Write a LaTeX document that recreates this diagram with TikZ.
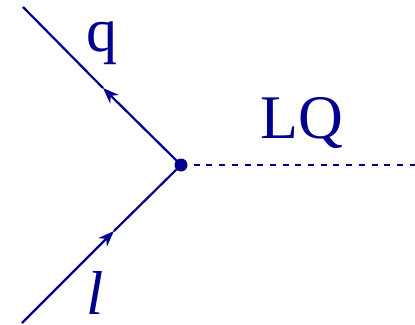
\documentclass[tikz,border=0pt]{standalone}
\usepackage{fontspec}
\setmainfont{Liberation Serif}
\usetikzlibrary{arrows.meta}
\definecolor{fc}{RGB}{0,0,140}
\begin{document}
\begin{tikzpicture}[x=1pt,y=1pt,
  fline/.style={draw=fc,line width=2.2pt},
  farrow/.style={fline,-{Stealth[length=16pt,width=12pt,inset=5pt]}},
  sline/.style={draw=fc,line width=2.2pt,dash pattern=on 6pt off 6.7pt},
  lbl/.style={text=fc,font=\fontsize{62}{62}\selectfont,anchor=base,inner sep=0pt}]
\useasboundingbox (0,0) rectangle (415,-324);
\coordinate (v) at (181,-165);
\coordinate (qt) at (23,-7);
\coordinate (qa) at (103,-88);
\coordinate (lb) at (22,-323);
\coordinate (la) at (114,-231);
\coordinate (e) at (415,-165);
\draw[sline] (v) -- (e);
\draw[farrow] (v) -- (qa);
\draw[fline] (qa) -- (qt);
\draw[farrow] (lb) -- (la);
\draw[fline] (la) -- (v);
\fill[fc] (v) circle (6.5pt);
\node[lbl] (q) at (102,-51) {q};
\node[lbl] (lq) at (302,-138) {LQ};
\node[lbl] (l) at (95,-314) {\itshape l};
\end{tikzpicture}
\end{document}
